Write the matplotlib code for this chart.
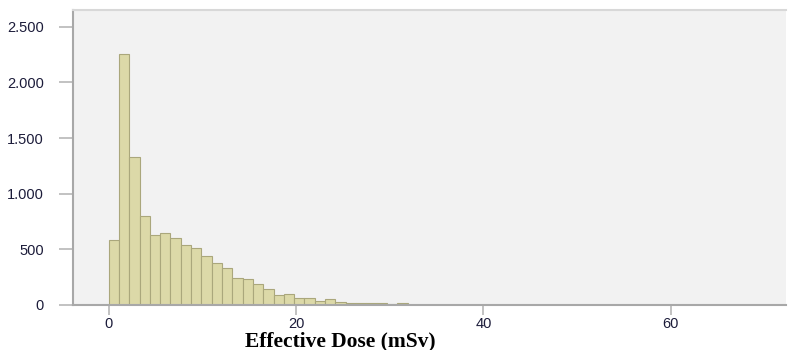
import numpy as np
import matplotlib.pyplot as plt
from matplotlib.ticker import FuncFormatter

# histogram counts per bin
bin_width = 1.1
counts = [585, 2255, 1330, 795, 630, 650, 600, 540, 515, 440, 375, 330,
          245, 230, 186, 142, 90, 99, 66, 66, 36, 54, 30, 21, 21, 20, 18, 5, 14]
x_ticks = [0, 20, 40, 60]
y_ticks = [0, 500, 1000, 1500, 2000, 2500]

lefts = np.arange(len(counts)) * bin_width

fig = plt.figure(figsize=(7.88, 3.5), dpi=100)
ax = fig.add_axes([0.0926, 0.129, 0.905, 0.842])
ax.set_facecolor("#f2f2f2")

ax.bar(lefts, counts, width=bin_width, align="edge",
       color="#dcd9a8", edgecolor="#aaa77c", linewidth=0.8)

ax.set_xlim(-3.8, 72.3)
ax.set_ylim(0, 2650)
ax.set_xticks(x_ticks)
ax.set_yticks(y_ticks)
ax.yaxis.set_major_formatter(FuncFormatter(lambda v, p: f"{int(v):,}".replace(",", ".")))

for lbl in ax.get_xticklabels() + ax.get_yticklabels():
    lbl.set_fontfamily("Liberation Sans")
    lbl.set_fontsize(10.5)
    lbl.set_color("#1c1c3a")

ax.tick_params(axis="x", length=7, width=1.2, color="#b8b8b8", pad=2)
ax.tick_params(axis="y", length=10, width=1.2, color="#b8b8b8", pad=11)

for s in ["left", "bottom"]:
    ax.spines[s].set_color("#a8a8a8")
    ax.spines[s].set_linewidth(1.5)
ax.spines["top"].set_color("#d8d8d8")
ax.spines["top"].set_linewidth(1.5)
ax.spines["right"].set_visible(False)

fig.text(340 / 788, 1 - 341 / 350, "Effective Dose (mSv)", ha="center", va="center",
         fontfamily="Liberation Serif", fontweight="bold", fontsize=15.5)

fig.savefig("out.png", dpi=100)
